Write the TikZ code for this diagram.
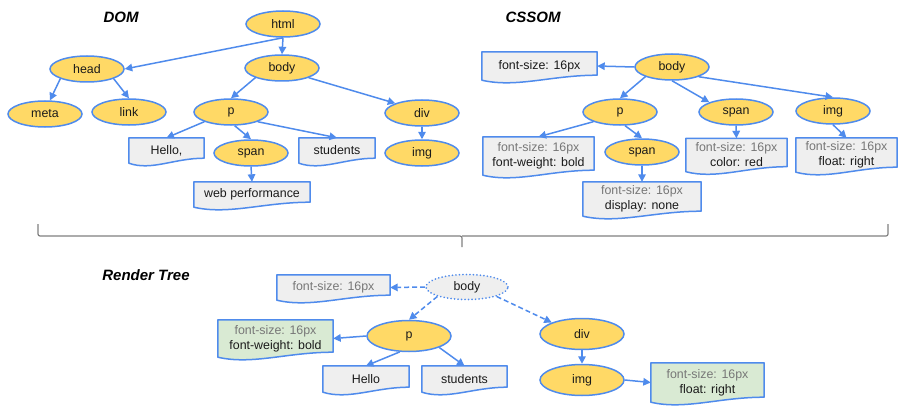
\documentclass[tikz,border=0pt]{standalone}
\usepackage{fontspec}
\setmainfont{Liberation Sans}
\usetikzlibrary{shapes.geometric, arrows.meta, calc, backgrounds}
\definecolor{eyellow}{HTML}{FFD966}
\definecolor{eblue}{HTML}{4F8BEC}
\definecolor{bgray}{HTML}{EFEFEF}
\definecolor{bgreen}{HTML}{D9EAD3}
\definecolor{tgray}{HTML}{777777}
\definecolor{tdark}{HTML}{1A1A1A}
\definecolor{bracec}{HTML}{7F7F7F}
\newcommand{\docshape}[2]{%
  \begin{scope}[on background layer]
  \path[draw=eblue, line width=1.5pt, line join=round, fill=#2]
    (#1.south west) -- (#1.north west) -- (#1.north east) -- ($(#1.south east)+(0,-5)$)
    .. controls ($(#1.south west)!0.6!(#1.south east)+(0,-5)$) and ($(#1.south west)!0.3!(#1.south east)+(0,8)$) .. (#1.south west) -- cycle;
  \end{scope}}
\newcommand{\fsg}{{\color{tgray}font-size: 16px}}
\begin{document}
\begin{tikzpicture}[x=1pt,y=-1pt,
  every node/.style={font=\fontsize{12.4}{15}\selectfont},
  el/.style={ellipse, draw=eblue, fill=eyellow, line width=1.5pt, minimum width=74pt, minimum height=26pt, inner sep=0pt, text=tdark},
  rel/.style={el, minimum width=84pt, minimum height=31pt},
  box/.style={rectangle, inner sep=0pt, align=center, text=tdark},
  arr/.style={draw=eblue, line width=1.5pt, -{Triangle[length=7.5pt,width=7.5pt]}},
  darr/.style={arr, dash pattern=on 5pt off 3pt},
  ttl/.style={font=\fontsize{15}{18}\selectfont\bfseries\itshape, text=black}]
\useasboundingbox (0,0) rectangle (900,420);

% titles
\node[ttl] (tdom) at (121,17) {DOM};
\node[ttl] (tcssom) at (533,17) {CSSOM};
\node[ttl] (trender) at (146,275) {Render Tree};

% ---------- DOM ----------
\node[el] (html) at (283,24) {html};
\node[el] (head) at (87,69) {head};
\node[el] (body) at (282,68) {body};
\node[el] (meta) at (45,114) {meta};
\node[el] (link) at (129,112) {link};
\node[el] (p) at (231,112) {p};
\node[el] (div) at (422,113) {div};
\node[el] (span) at (251,153) {span};
\node[el] (img) at (422,153) {img};
\node[box, minimum width=75pt, minimum height=25pt] (hello) at (166.5,150.5) {Hello,};
\node[box, minimum width=76pt, minimum height=25pt] (students) at (337,150.5) {students};
\node[box, minimum width=116pt, minimum height=25pt] (wp) at (252,194.5) {web performance};
\docshape{hello}{bgray}
\docshape{students}{bgray}
\docshape{wp}{bgray}

\draw[arr] (html.south) -- (head.east);
\draw[arr] (html.south) -- (body.north);
\draw[arr] (head.south west) -- (meta.70);
\draw[arr] (head.south east) -- (link.north);
\draw[arr] (body.south west) -- (p.north);
\draw[arr] (body.south east) -- (div.north west);
\draw[arr] (p.south west) -- (hello.north);
\draw[arr] (p.-75) -- (span.north);
\draw[arr] (p.south east) -- (students.north);
\draw[arr] (div.south) -- (img.north);
\draw[arr] (span.south) -- (wp.north);

% ---------- CSSOM ----------
\node[el] (cbody) at (672,67) {body};
\node[el] (cp) at (620,112) {p};
\node[el] (cspan) at (736,112) {span};
\node[el] (cimg) at (833,111) {img};
\node[el] (cspan2) at (642,152) {span};
\node[box, minimum width=115pt, minimum height=28pt] (cfsb) at (539.5,66) {font-size: 16px};
\node[box, minimum width=111pt, minimum height=38pt] (cpb) at (538.5,156) {\fsg\\font-weight: bold};
\node[box, minimum width=118pt, minimum height=34pt] (cspan2b) at (642,199) {\fsg\\display: none};
\node[box, minimum width=101pt, minimum height=33pt] (cspanb) at (736.5,155) {\fsg\\color: red};
\node[box, minimum width=101pt, minimum height=34pt] (cimgb) at (846.5,155) {\fsg\\float: right};
\docshape{cfsb}{bgray}
\docshape{cpb}{bgray}
\docshape{cspan2b}{bgray}
\docshape{cspanb}{bgray}
\docshape{cimgb}{bgray}

\draw[arr] (cbody.west) -- (cfsb.east);
\draw[arr] (cbody.south west) -- (cp.north);
\draw[arr] (cbody.south) -- (cspan.north west);
\draw[arr] (cbody.south east) -- (cimg.north);
\draw[arr] (cp.south west) -- (cpb.north);
\draw[arr] (cp.-70) -- (cspan2.north);
\draw[arr] (cspan.south) -- (cspanb.north);
\draw[arr] (cimg.south) -- (cimgb.north);
\draw[arr] (cspan2.south) -- (cspan2b.north);

% ---------- brace ----------
\draw[bracec, line width=1.2pt, rounded corners=2pt] (38,224) -- (38,236) -- (462,236) -- (462,247);
\draw[bracec, line width=1.2pt, rounded corners=2pt] (462,236) -- (888,236) -- (888,224);

% ---------- Render tree ----------
\node[el, fill=bgray, draw=eblue, dash pattern=on 0.1pt off 3.4pt, line cap=round, line width=1.8pt, minimum width=82pt, minimum height=25pt] (rbody) at (467,287) {body};
\node[rel] (rp) at (409,336) {p};
\node[rel] (rdiv) at (582,334) {div};
\node[rel] (rimg) at (582,380) {img};
\node[box, minimum width=113pt, minimum height=25pt] (rfsb) at (333.5,287.5) {\fsg};
\node[box, minimum width=115pt, minimum height=37pt] (rpb) at (275.5,338.5) {\fsg\\font-weight: bold};
\node[box, minimum width=86pt, minimum height=26pt] (rhello) at (366,379) {Hello};
\node[box, minimum width=85pt, minimum height=26pt] (rstudents) at (464.5,379) {students};
\node[box, minimum width=113pt, minimum height=39pt] (rimgb) at (707.5,382.5) {\fsg\\float: right};
\docshape{rfsb}{bgray}
\docshape{rpb}{bgreen}
\docshape{rhello}{bgray}
\docshape{rstudents}{bgray}
\docshape{rimgb}{bgreen}

\draw[darr] (rbody.west) -- (rfsb.east);
\draw[darr] (rbody.south west) -- (rp.north);
\draw[darr] (rbody.south east) -- (rdiv.north west);
\draw[arr] (rp.west) -- (rpb.east);
\draw[arr] (rp.-120) -- (rhello.north);
\draw[arr] (rp.south east) -- (rstudents.north);
\draw[arr] (rdiv.south) -- (rimg.north);
\draw[arr] (rimg.east) -- (rimgb.west);
\end{tikzpicture}
\end{document}
